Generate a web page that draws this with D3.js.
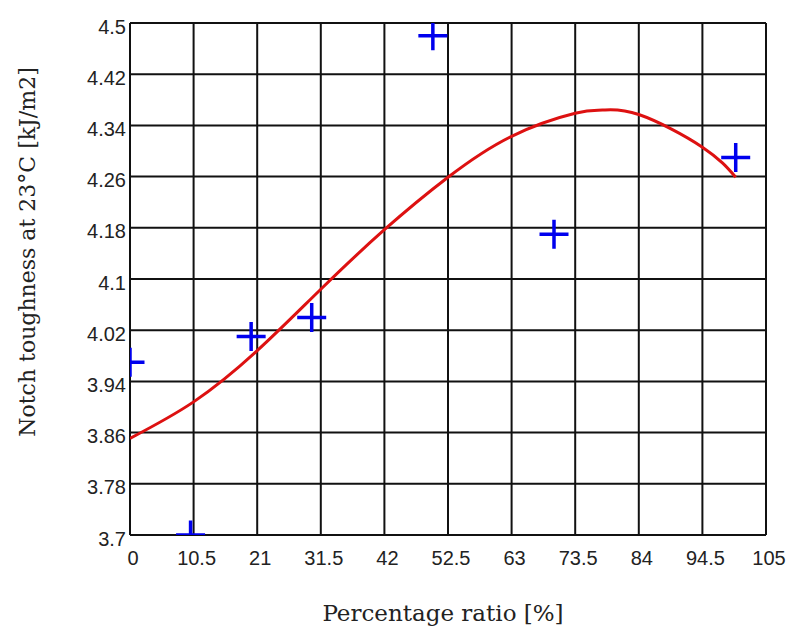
<!DOCTYPE html>
<html>
<head>
<meta charset="utf-8">
<script src="https://cdn.jsdelivr.net/npm/d3@7"></script>
<style>
  body { margin: 0; background: #fff; }
  svg { display: block; }
</style>
</head>
<body>
<svg id="chart" width="790" height="633"></svg>
<script>
// measured points (crosses)
var ratio = [0, 10, 20, 30, 50, 70, 100];
var toughness = [3.97, 3.70, 4.01, 4.04, 4.48, 4.17, 4.29];

// fitted curve
var fitX = [0, 10.5, 21, 31.5, 42, 52.5, 63, 73.5, 78, 84, 94.5, 100];
var fitY = [3.851, 3.908, 3.988, 4.084, 4.177, 4.259, 4.323, 4.359, 4.364, 4.357, 4.306, 4.259];

// tick labels
var xTicks = [0, 10.5, 21, 31.5, 42, 52.5, 63, 73.5, 84, 94.5, 105];
var xLabels = ["0", "10.5", "21", "31.5", "42", "52.5", "63", "73.5", "84", "94.5", "105"];
var yTicks = [3.7, 3.78, 3.86, 3.94, 4.02, 4.1, 4.18, 4.26, 4.34, 4.42, 4.5];
var yLabels = ["3.7", "3.78", "3.86", "3.94", "4.02", "4.1", "4.18", "4.26", "4.34", "4.42", "4.5"];

var svg = d3.select("#chart");
var pLeft = 130, pRight = 766, pTop = 23, pBottom = 535;
var tickFont = "'Liberation Sans', Arial, sans-serif";
var titleFont = "'DejaVu Serif', serif";

var x = d3.scaleLinear().domain([0, 105]).range([pLeft, pRight]);
var y = d3.scaleLinear().domain([3.7, 4.5]).range([pBottom, pTop]);

svg.append("clipPath").attr("id", "plot")
  .append("rect")
  .attr("x", pLeft).attr("y", pTop)
  .attr("width", pRight - pLeft).attr("height", pBottom - pTop);

// grid
var grid = svg.append("g").attr("stroke", "#111").attr("stroke-width", 2);
grid.selectAll(".vx").data(xTicks).enter().append("line")
  .attr("x1", function(d) { return x(d); })
  .attr("x2", function(d) { return x(d); })
  .attr("y1", pTop).attr("y2", pBottom);
grid.selectAll(".hy").data(yTicks).enter().append("line")
  .attr("y1", function(d) { return y(d); })
  .attr("y2", function(d) { return y(d); })
  .attr("x1", pLeft).attr("x2", pRight);

// tick labels
svg.append("g").selectAll("text").data(xTicks).enter().append("text")
  .attr("x", function(d) { return x(d) + 3; })
  .attr("y", 565)
  .attr("text-anchor", "middle")
  .attr("font-family", tickFont)
  .attr("font-size", 20)
  .attr("fill", "#222")
  .text(function(d, i) { return xLabels[i]; });

svg.append("g").selectAll("text").data(yTicks).enter().append("text")
  .attr("x", pLeft - 4)
  .attr("y", function(d) { return y(d) + 10.5; })
  .attr("text-anchor", "end")
  .attr("font-family", tickFont)
  .attr("font-size", 20)
  .attr("fill", "#222")
  .text(function(d, i) { return yLabels[i]; });

// axis titles
svg.append("text")
  .attr("transform", "translate(35,252) rotate(-90)")
  .attr("text-anchor", "middle")
  .attr("font-family", titleFont)
  .attr("font-size", 22)
  .attr("fill", "#222")
  .text("Notch toughness at 23°C [kJ/m2]");

svg.append("text")
  .attr("x", 443).attr("y", 621)
  .attr("text-anchor", "middle")
  .attr("font-family", titleFont)
  .attr("font-size", 23)
  .attr("fill", "#222")
  .text("Percentage ratio [%]");

var plot = svg.append("g").attr("clip-path", "url(#plot)");

// fitted curve
var line = d3.line()
  .x(function(d, i) { return x(fitX[i]); })
  .y(function(d) { return y(d); })
  .curve(d3.curveNatural);

plot.append("path")
  .datum(fitY)
  .attr("d", line)
  .attr("fill", "none")
  .attr("stroke", "#dd1111")
  .attr("stroke-width", 3);

// crosses
plot.selectAll(".pt").data(toughness).enter().append("path")
  .attr("transform", function(d, i) { return "translate(" + x(ratio[i]) + "," + y(d) + ")"; })
  .attr("d", "M-14.5,0H14.5M0,-14.5V14.5")
  .attr("stroke", "#0000ee")
  .attr("stroke-width", 3.5)
  .attr("fill", "none");
</script>
</body>
</html>
